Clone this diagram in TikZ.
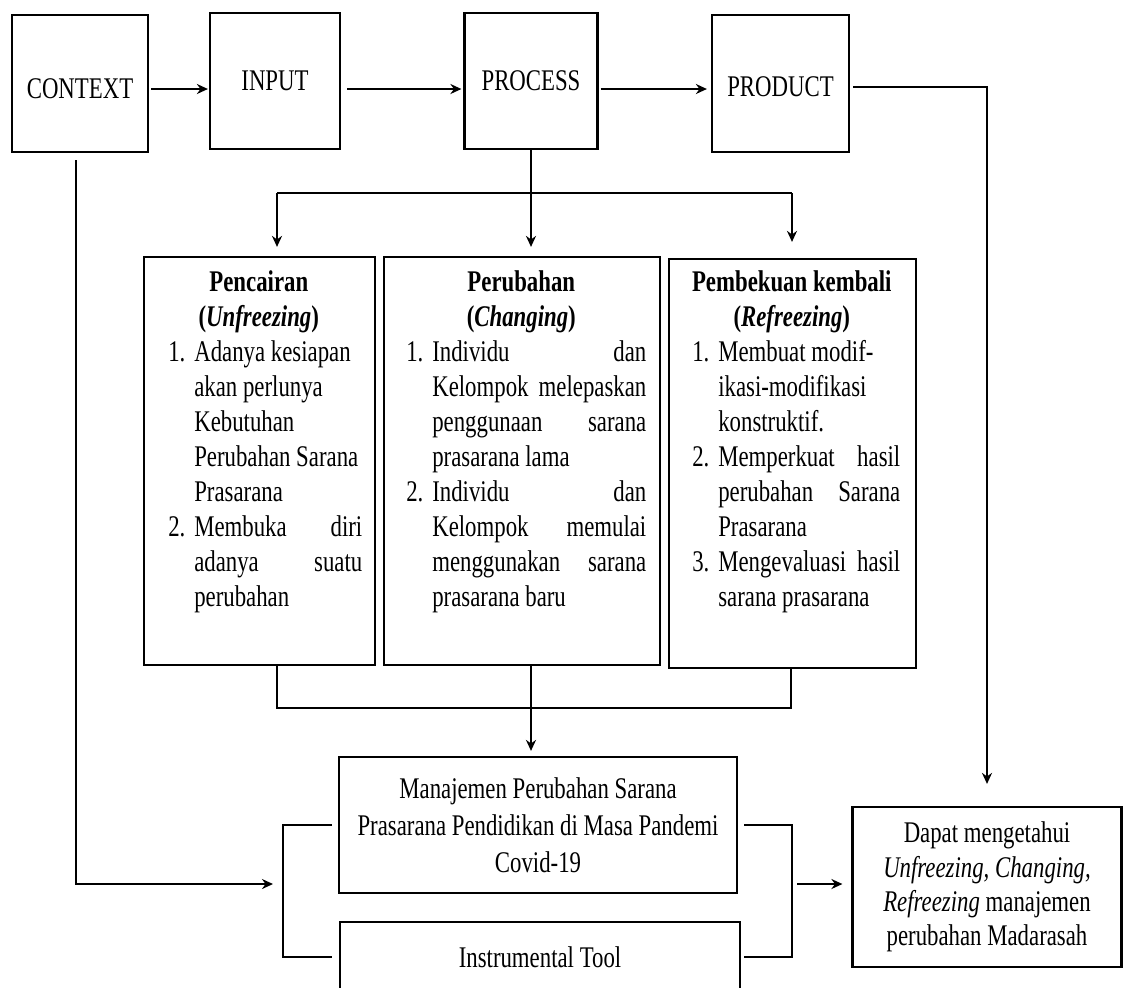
\documentclass[tikz,border=0pt]{standalone}
\usepackage{fontspec}
\setmainfont{Liberation Serif}[FakeStretch=0.76]
\usetikzlibrary{arrows.meta}

% heading and numbered lines of the three stage boxes
\newcommand{\stagehead}[3]{{\centering\hspace*{#3}\textbf{#1}\\\hspace*{#3}\textbf{(\textit{#2})}\par}}
\newcommand{\stageitem}[2]{\par\noindent\hangindent=13pt\hangafter=1\makebox[13pt][l]{#1}#2\par}

\begin{document}
\begin{tikzpicture}[x=0.5pt, y=-0.5pt,
    box/.style={draw, line width=1.1pt, inner sep=0pt, align=center, font=\fontsize{15pt}{17.5pt}\selectfont},
    link/.style={line width=1pt},
    arr/.style={line width=1pt, -{Stealth[length=5.5pt, width=5pt]}},
    stagetext/.style={inner sep=0pt, anchor=north west, align=justify,
        font=\fontsize{15pt}{17.5pt}\selectfont,
        execute at begin node={\tolerance=10000\hyphenpenalty=10000\parindent=0pt}}]
    \clip (0,0) rectangle (1123,987);

    % CIPP row
    \node[box, minimum width=68pt, minimum height=68.5pt, text height=15.4pt, text depth=0pt] (context) at (80,83.5) {CONTEXT};
    \node[box, minimum width=65pt, minimum height=68pt] (input) at (275,81) {INPUT};
    \node[box, minimum width=66.5pt, minimum height=68pt] (process) at (531,81) {PROCESS};
    \node[box, minimum width=68.5pt, minimum height=68.5pt, text height=13.4pt, text depth=0pt] (product) at (780.5,83.5) {PRODUCT};

    \coordinate (toprow) at (0,89);
    \draw[arr, shorten <=1pt, shorten >=0.5pt] (context.east |- toprow) -- (input.west |- toprow);
    \draw[arr, shorten <=3pt, shorten >=1pt] (input.east |- toprow) -- (process.west |- toprow);
    \draw[arr, shorten <=1pt, shorten >=2pt] (process.east |- toprow) -- (product.west |- toprow);

    % Lewin stages
    \node[box, minimum width=115.5pt, minimum height=204pt] (unfreeze) at (259.5,461) {};
    \node[box, minimum width=138pt, minimum height=204pt] (change) at (522,461) {};
    \node[box, minimum width=123.5pt, minimum height=204.5pt] (refreeze) at (792.5,463.5) {};

    \node[stagetext, text width=97pt] (unfreezetxt) at ([xshift=12.5pt, yshift=-7pt]unfreeze.north west) {
        \stagehead{Pencairan}{Unfreezing}{-6.5pt}
        \stageitem{1.}{Adanya kesiapan\newline akan perlunya\newline Kebutuhan\newline Perubahan Sarana\newline Prasarana}
        \stageitem{2.}{Membuka diri\linebreak adanya suatu\linebreak perubahan}};
    \node[stagetext, text width=120pt] (changetxt) at ([xshift=11.5pt, yshift=-7pt]change.north west) {
        \stagehead{Perubahan}{Changing}{-5pt}
        \stageitem{1.}{Individu dan\linebreak Kelompok melepaskan\linebreak penggunaan sarana\linebreak prasarana lama}
        \stageitem{2.}{Individu dan\linebreak Kelompok memulai\linebreak menggunakan sarana\linebreak prasarana baru}};
    \node[stagetext, text width=104pt] (refreezetxt) at ([xshift=12pt, yshift=-6pt]refreeze.north west) {
        \stagehead{Pembekuan kembali}{Refreezing}{-4.5pt}
        \stageitem{1.}{Membuat modif-\newline ikasi-modifikasi\newline konstruktif.}
        \stageitem{2.}{Memperkuat hasil\linebreak perubahan Sarana\linebreak Prasarana}
        \stageitem{3.}{Mengevaluasi hasil\linebreak sarana prasarana}};

    \coordinate (branchL) at (277,193);
    \coordinate (branchR) at (792,193);
    \draw[link] (branchL) -- (branchR);
    \draw[arr, shorten >=4.5pt] (branchL) -- (branchL |- unfreeze.north);
    \draw[arr, shorten >=4.5pt] (process.south) -- (process.south |- change.north);
    \draw[arr, shorten >=8pt] (branchR) -- (branchR |- refreeze.north);

    % bottom part
    \node[box, minimum width=199pt, minimum height=68pt, font=\fontsize{15pt}{18.5pt}\selectfont] (manage) at (538,825)
        {Manajemen Perubahan Sarana\\Prasarana Pendidikan di Masa Pandemi\\Covid-19};
    \node[box, minimum width=200pt, minimum height=35pt] (tool) at (540,957) {Instrumental Tool};
    \node[box, minimum width=134.5pt, minimum height=80pt, font=\fontsize{15pt}{17.2pt}\selectfont] (result) at (987,887)
        {Dapat mengetahui\\\textit{Unfreezing, Changing,}\\\textit{Refreezing} manajemen\\perubahan Madarasah};

    \coordinate (mergeL) at (277,708);
    \coordinate (mergeR) at (791,708);
    \draw[link] (mergeL |- unfreeze.south) -- (mergeL) -- (mergeR) -- (mergeR |- refreeze.south);
    \draw[arr, shorten >=2.5pt] (process.south |- change.south) -- (process.south |- manage.north);

    \coordinate (bracketL) at (283,884);
    \coordinate (bracketR) at (792,884);
    \draw[link] ([xshift=-3pt]manage.west) -| (bracketL) |- ([xshift=-3.5pt]tool.west);
    \draw[link] ([xshift=3pt]manage.east) -| (bracketR) |- ([xshift=1.5pt]tool.east);
    \draw[arr, shorten <=3.5pt, shorten >=5pt] ([xshift=-2pt]context.south) |- (bracketL);
    \draw[arr, shorten <=2.5pt, shorten >=4.5pt] (bracketR) -- (bracketR -| result.west);

    \coordinate (prodrow) at (0,87);
    \draw[arr, shorten <=1.5pt, shorten >=11pt] (product.east |- prodrow) -| (result.north);
\end{tikzpicture}
\end{document}
